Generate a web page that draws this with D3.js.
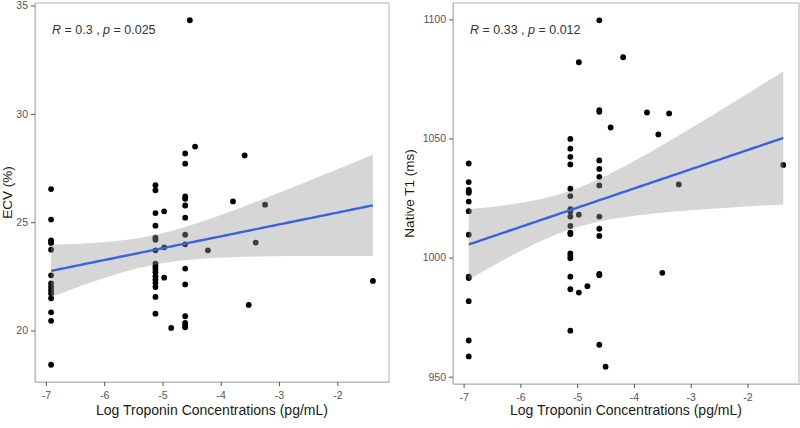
<!DOCTYPE html>
<html>
<head>
<meta charset="utf-8">
<script src="https://cdn.jsdelivr.net/npm/d3@7"></script>
<style>
  body { margin: 0; background: #fff; }
  svg { font-family: "Liberation Sans", Arial, sans-serif; }
</style>
</head>
<body>
<svg id="chart" width="800" height="428"></svg>
<script>
// ECV panel (log troponin vs ECV %)
const ecvLogTrop = [
  -6.91, -6.91, -6.91, -6.91, -6.91, -6.91, -6.91, -6.91, -6.91, -6.91, -6.91, -6.91, -6.91, -6.91, -6.91,
  -5.12, -5.12, -5.12, -5.12, -5.12, -5.12, -5.12, -5.12, -5.12, -5.12, -5.12, -5.12, -5.12, -5.12, -5.12, -5.12, -5.12,
  -4.97, -4.97, -4.97, -4.85,
  -4.61, -4.61, -4.61, -4.61, -4.61, -4.61, -4.61, -4.61, -4.61, -4.61, -4.61, -4.61, -4.61, -4.61,
  -4.53, -4.44, -4.22, -3.79, -3.59, -3.40, -3.24, -3.52, -1.39
];
const ecvValues = [
  26.53, 25.12, 24.16, 24.10, 24.04, 23.73, 22.55, 22.17, 22.01, 21.86, 21.71, 21.49, 20.84, 20.45, 18.42,
  26.71, 26.47, 25.42, 24.84, 24.29, 24.19, 23.70, 23.09, 22.96, 22.84, 22.69, 22.50, 22.35, 22.20, 22.01, 21.55, 20.78,
  25.5, 23.84, 22.44, 20.12,
  28.17, 27.70, 26.19, 26.08, 25.77, 25.21, 24.42, 23.98, 22.86, 22.13, 20.66, 20.35, 20.26, 20.15,
  34.32, 28.49, 23.70, 25.96, 28.08, 24.06, 25.81, 21.18, 22.29
];

// Native T1 panel (log troponin vs T1 ms)
const t1LogTrop = [
  -6.91, -6.91, -6.91, -6.91, -6.91, -6.91, -6.91, -6.91, -6.91, -6.91, -6.91, -6.91, -6.91,
  -5.12, -5.12, -5.12, -5.12, -5.12, -5.12, -5.12, -5.12, -5.12, -5.12, -5.12, -5.12, -5.12, -5.12, -5.12, -5.12, -5.12, -5.12,
  -4.97, -4.97, -4.97, -4.82,
  -4.61, -4.61, -4.61, -4.61, -4.61, -4.61, -4.61, -4.61, -4.61, -4.61, -4.61, -4.61, -4.61,
  -4.50, -4.41, -4.19, -3.77, -3.57, -3.38, -3.21, -3.50, -1.37
];
const t1Values = [
  1039.5, 1031.7, 1028.4, 1027.8, 1027.2, 1023.5, 1019.5, 1009.6, 992.0, 991.4, 981.7, 965.2, 958.5,
  1049.8, 1045.7, 1042.3, 1039.1, 1028.9, 1025.8, 1020.3, 1019.3, 1017.2, 1013.3, 1010.5, 1009.9, 1001.8, 1000.7, 999.7, 992.0, 986.7, 969.3,
  1082.0, 1018.0, 985.3, 988.0,
  1099.6, 1061.9, 1061.2, 1040.8, 1037.2, 1033.9, 1030.3, 1017.2, 1012.1, 1009.1, 993.2, 992.6, 963.4,
  954.2, 1054.6, 1084.1, 1060.9, 1051.7, 1060.5, 1030.7, 993.6, 1038.9
];

const xTicks = [-7, -6, -5, -4, -3, -2];
const ecvTicks = [20, 25, 30, 35];
const t1Ticks = [950, 1000, 1050, 1100];
const xTitle = "Log Troponin Concentrations (pg/mL)";

const svg = d3.select("#chart");

// simple lm fit with 95% confidence band, like geom_smooth(method = "lm")
function fitLine(xs, ys) {
  var n = xs.length;
  var mx = d3.mean(xs), my = d3.mean(ys);
  var sxx = d3.sum(xs, x => (x - mx) * (x - mx));
  var sxy = d3.sum(xs, (x, i) => (x - mx) * (ys[i] - my));
  var b = sxy / sxx, a = my - b * mx;
  var rss = d3.sum(xs, (x, i) => Math.pow(ys[i] - (a + b * x), 2));
  var s = Math.sqrt(rss / (n - 2));
  var tq = 1.96 + 2.4 / (n - 2); // rough qt(0.975, df)
  var ext = d3.extent(xs);
  var pts = d3.range(80).map(i => {
    var x = ext[0] + (ext[1] - ext[0]) * i / 79;
    var fit = a + b * x;
    var se = s * Math.sqrt(1 / n + (x - mx) * (x - mx) / sxx);
    return { x: x, fit: fit, lo: fit - tq * se, hi: fit + tq * se };
  });
  return pts;
}

function expand(ext) {
  var pad = (ext[1] - ext[0]) * 0.05;
  return [ext[0] - pad, ext[1] + pad];
}

function drawPanel(opts) {
  var g = svg.append("g");
  var p = opts.box;

  var x = d3.scaleLinear().domain(expand(d3.extent(opts.xs))).range([p.left, p.right]);
  var y = d3.scaleLinear().domain(expand(d3.extent(opts.ys))).range([p.bottom, p.top]);

  // panel border
  g.append("rect")
    .attr("x", p.left).attr("y", p.top)
    .attr("width", p.right - p.left).attr("height", p.bottom - p.top)
    .attr("fill", "none").attr("stroke", "#bfbfbf").attr("stroke-width", 1.2);

  // points (drawn under the band, like ggplot layering)
  g.selectAll("circle.pt")
    .data(opts.xs)
    .enter().append("circle")
    .attr("class", "pt")
    .attr("cx", d => x(d))
    .attr("cy", (d, i) => y(opts.ys[i]))
    .attr("r", 2.9)
    .attr("fill", "#000");

  var fit = fitLine(opts.xs, opts.ys);

  g.append("path")
    .datum(fit)
    .attr("d", d3.area().x(d => x(d.x)).y0(d => y(d.lo)).y1(d => y(d.hi)))
    .attr("fill", "#999999")
    .attr("fill-opacity", 0.4);

  g.append("path")
    .datum(fit)
    .attr("d", d3.line().x(d => x(d.x)).y(d => y(d.fit)))
    .attr("fill", "none")
    .attr("stroke", "#3a62dc")
    .attr("stroke-width", 2.4);

  // axes (plain hyphen minus, no thousands separator)
  var fmt = d => String(d);
  var xAxis = g.append("g")
    .attr("transform", "translate(0," + p.bottom + ")")
    .call(d3.axisBottom(x).tickValues(xTicks).tickFormat(fmt).tickSize(4).tickSizeOuter(0));
  var yAxis = g.append("g")
    .attr("transform", "translate(" + p.left + ",0)")
    .call(d3.axisLeft(y).tickValues(opts.yTicks).tickFormat(fmt).tickSize(4).tickSizeOuter(0));

  [xAxis, yAxis].forEach(ax => {
    ax.select(".domain").attr("stroke", "#bfbfbf").attr("stroke-width", 1.2);
    ax.selectAll(".tick line").attr("stroke", "#555");
    ax.selectAll(".tick text").attr("fill", "#555").style("font-size", "10.5px");
  });
  xAxis.selectAll(".tick text").attr("dy", "0.95em");

  // titles
  g.append("text")
    .attr("x", (p.left + p.right) / 2)
    .attr("y", 415)
    .attr("text-anchor", "middle")
    .style("font-size", "14px")
    .attr("fill", "#1a1a1a")
    .text(xTitle);

  g.append("text")
    .attr("transform", "translate(" + opts.yTitleX + "," + ((p.top + p.bottom) / 2) + ") rotate(-90)")
    .attr("text-anchor", "middle")
    .style("font-size", "13.5px")
    .attr("fill", "#1a1a1a")
    .text(opts.yTitle);

  // correlation label
  var lab = g.append("text")
    .attr("x", p.left + 17)
    .attr("y", 34)
    .style("font-size", "12.5px")
    .attr("fill", "#333");
  lab.append("tspan").style("font-style", "italic").text("R");
  lab.append("tspan").text(" = " + opts.r + " , ");
  lab.append("tspan").style("font-style", "italic").text("p");
  lab.append("tspan").text(" = " + opts.p);
}

drawPanel({
  xs: ecvLogTrop, ys: ecvValues, yTicks: ecvTicks,
  box: { left: 35, right: 389, top: 3, bottom: 382 },
  yTitle: "ECV (%)", yTitleX: 12, r: "0.3", p: "0.025"
});

drawPanel({
  xs: t1LogTrop, ys: t1Values, yTicks: t1Ticks,
  box: { left: 453, right: 799, top: 3, bottom: 384 },
  yTitle: "Native T1 (ms)", yTitleX: 414, r: "0.33", p: "0.012"
});
</script>
</body>
</html>
